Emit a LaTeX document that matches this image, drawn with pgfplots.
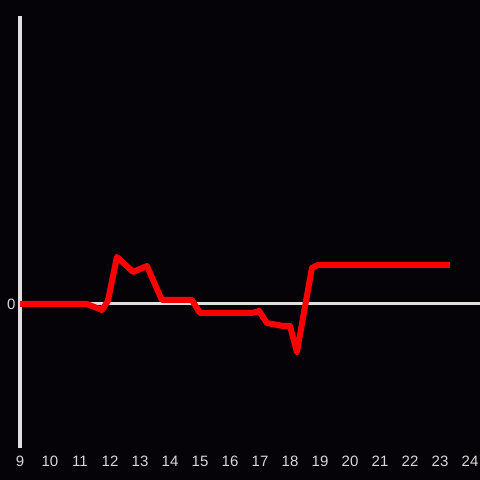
\documentclass[border=0pt]{standalone}
\usepackage{pgfplots}
\pgfplotsset{compat=1.18}
\usepackage{fontspec}
\setmainfont{Liberation Sans}
\definecolor{bg}{HTML}{050308}
\definecolor{axisgray}{HTML}{E0E0E0}
\definecolor{labelgray}{HTML}{D8D8D8}
\begin{document}
\begin{tikzpicture}
\fill[bg] (-20bp,-32bp) rectangle (460bp,448bp);
\begin{axis}[
  scale only axis,
  width=460bp, height=432bp,
  xmin=9, xmax=24.333,
  ymin=-144, ymax=288,
  axis x line*=bottom,
  axis y line*=left,
  x axis line style={draw=none},
  y axis line style={axisgray, line width=3bp, -},
  xtick={9,10,...,24},
  ytick={0},
  major tick length=0pt,
  ymajorgrids,
  major grid style={axisgray, line width=3bp},
  tick label style={font=\fontsize{15bp}{17bp}\selectfont, text=labelgray},
  /pgf/number format/assume math mode=true,
  xticklabel style={anchor=center, yshift=-13bp},
  yticklabel style={xshift=-1bp},
  clip=false,
]
\addplot[color=red, line width=6bp, line join=round] coordinates {
  (9.0,0) (11.23,0) (11.73,-6) (11.93,3) (12.23,47) (12.77,32)
  (13.23,38) (13.73,4) (14.73,4) (15.0,-9) (16.73,-9) (16.97,-7)
  (17.23,-19) (17.77,-22) (18.0,-22) (18.23,-48) (18.73,36)
  (18.93,39) (23.33,39)
};
\end{axis}
\pgfresetboundingbox
\useasboundingbox (-20bp,-32bp) rectangle (460bp,448bp);
\end{tikzpicture}
\end{document}
